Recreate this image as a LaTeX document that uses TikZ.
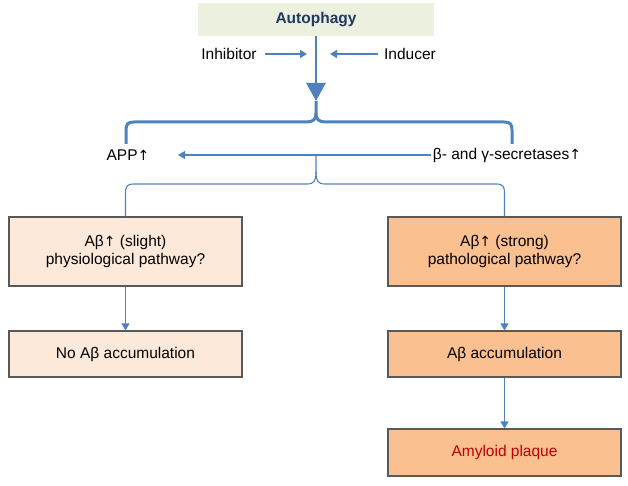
\documentclass[tikz,border=0pt]{standalone}
\usepackage{fontspec}
\setmainfont{Liberation Sans}
\newfontfamily\arrowfont{DejaVu Sans}
\newcommand{\uparr}{{\arrowfont\fontsize{14}{18}\selectfont ↑}}
\usetikzlibrary{arrows.meta}
\definecolor{lineblue}{HTML}{4F81BD}
\definecolor{autofill}{HTML}{EBF1DE}
\definecolor{autotext}{HTML}{1F3864}
\definecolor{lightpeach}{HTML}{FDE9D9}
\definecolor{strongpeach}{HTML}{FAC090}
\definecolor{boxborder}{HTML}{595959}
\definecolor{plaquered}{HTML}{C00000}
\tikzset{
  txt/.style={inner sep=0pt, font=\fontsize{15.5}{18.5}\selectfont},
  flowbox/.style={draw=boxborder, line width=1.1pt, minimum width=233pt, align=center, inner sep=2pt, font=\fontsize{15.5}{18.5}\selectfont},
  lightbox/.style={flowbox, fill=lightpeach},
  strongbox/.style={flowbox, fill=strongpeach},
  thinarrow/.style={draw=lineblue, line width=1.2pt, -{Triangle[length=7pt,width=8pt]}},
  thinline/.style={draw=lineblue, line width=1.1pt},
  thickbrace/.style={draw=lineblue, line width=3pt},
}
\begin{document}
\begin{tikzpicture}[x=1pt,y=-1pt]
\useasboundingbox (0,0) rectangle (628,486);

% Autophagy
\node[fill=autofill, minimum width=236pt, minimum height=33pt, inner sep=0pt,
      font=\fontsize{15.5}{18.5}\selectfont\bfseries, text=autotext] (auto) at (316,19.5) {Autophagy};

% inhibitor / inducer
\node[txt] (inh) at (229,54) {Inhibitor};
\node[txt] (ind) at (410,54) {Inducer};
\coordinate (inhtip) at (307,54);
\coordinate (indtip) at (330,54);
\draw[thinarrow] ([xshift=8pt]inh.east |- 0,54) -- (inhtip);
\draw[thinarrow] ([xshift=-6pt]ind.west |- 0,54) -- (indtip);

% main thick arrow
\coordinate (maintip) at (316,101);
\draw[draw=lineblue, line width=2.6pt, -{Triangle[length=18pt,width=19pt]}] (auto.south) -- (maintip);

% top thick brace
\coordinate (bl) at (126,144);
\coordinate (br) at (512,144);
\draw[thickbrace, line join=round] (bl) -- (126,130) .. controls (126,124) and (128,122) .. (134,122)
  -- (306,122) .. controls (313,122) and (316,120) .. (316,113) -- (maintip);
\draw[thickbrace, line join=round] (br) -- (512,130) .. controls (512,124) and (510,122) .. (504,122)
  -- (326,122) .. controls (319,122) and (316,120) .. (316,113);

% APP and secretases
\node[txt] (app) at (128,155.5) {APP\uparr};
\node[txt] (sec) at (507,155.5) {β- and γ-secretases\uparr};
\coordinate (apptip) at (178,155);
\draw[thinarrow] ([xshift=-2pt]sec.west |- 0,155) -- (apptip);

% boxes
\node[lightbox, minimum height=69pt] (b1) at (125.5,251.5) {Aβ\uparr\ (slight)\\physiological pathway?};
\node[strongbox, minimum height=69pt] (b2) at (504.5,251.5) {Aβ\uparr\ (strong)\\pathological pathway?};
\node[lightbox, minimum height=46pt] (b3) at (125.5,354) {No Aβ accumulation};
\node[strongbox, minimum height=46pt] (b4) at (504.5,354) {Aβ accumulation};
\node[strongbox, minimum height=47pt, text=plaquered] (b5) at (504.5,452.5) {Amyloid plaque};

% lower thin brace
\coordinate (lbtop) at (316,155);
\draw[thinline] (lbtop) -- (316,172) .. controls (316,181) and (314,184) .. (307,184)
  -- (134,184) .. controls (127,184) and (125.5,186) .. (125.5,194) -- (b1.north);
\draw[thinline] (316,172) .. controls (316,181) and (318,184) .. (325,184)
  -- (496,184) .. controls (503,184) and (504.5,186) .. (504.5,194) -- (b2.north);

% vertical arrows
\draw[thinarrow] (b1.south) -- (b3.north);
\draw[thinarrow] (b2.south) -- (b4.north);
\draw[thinarrow] (b4.south) -- (b5.north);
\end{tikzpicture}
\end{document}
